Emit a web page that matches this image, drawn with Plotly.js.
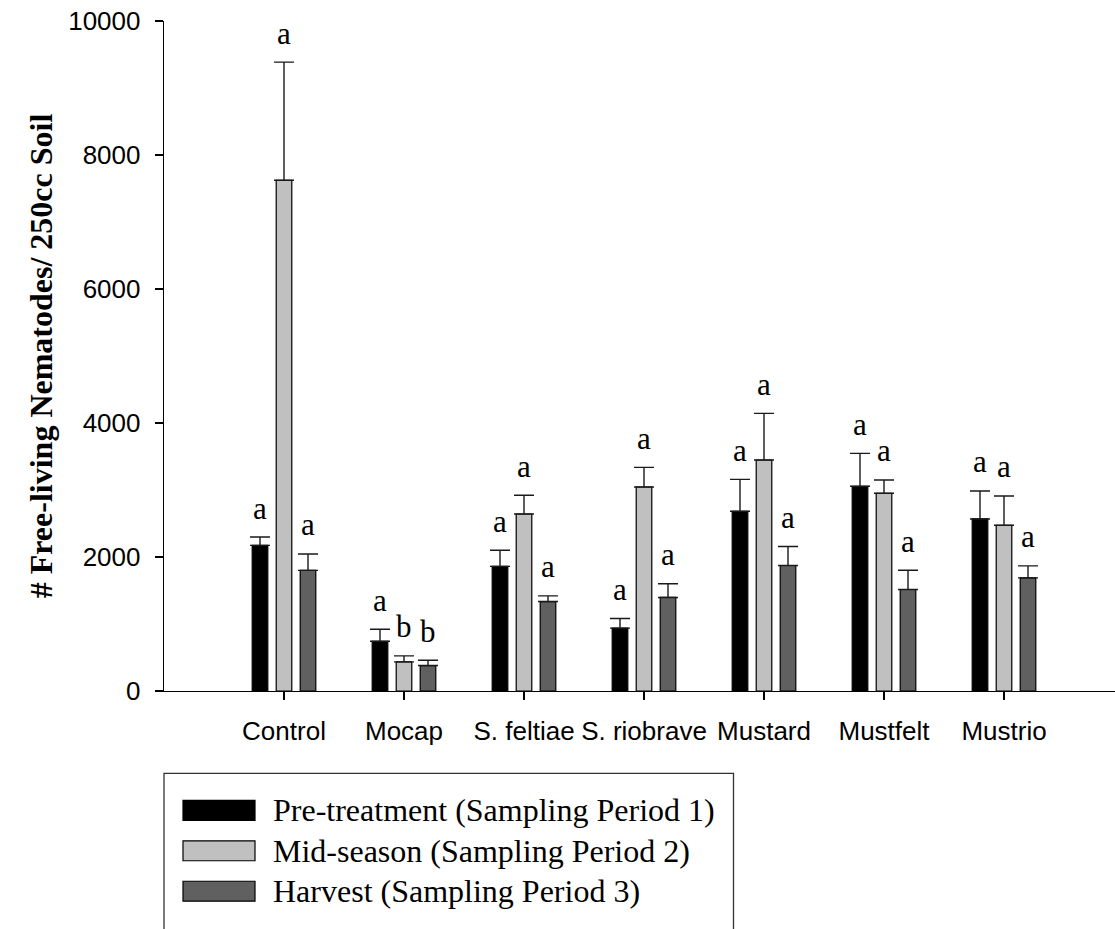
<!DOCTYPE html>
<html>
<head>
<meta charset="utf-8">
<script src="https://cdn.plot.ly/plotly-3.0.1.min.js"></script>
<style>html,body{margin:0;padding:0;background:#fff;}#chart{width:1115px;height:929px;}</style>
</head>
<body>
<div id="chart"></div>
<script>
// ---- data ----
var categories = ['Control', 'Mocap', 'S. feltiae', 'S. riobrave', 'Mustard', 'Mustfelt', 'Mustrio'];
var seriesNames = ['Pre-treatment (Sampling Period 1)', 'Mid-season (Sampling Period 2)', 'Harvest (Sampling Period 3)'];
var preValues = [2173, 742, 1860, 939, 2683, 3055, 2568];
var preErrors = [125, 179, 240, 144, 476, 492, 418];
var midValues = [7623, 435, 2642, 3045, 3448, 2951, 2474];
var midErrors = [1763, 89, 280, 293, 695, 199, 437];
var harValues = [1800, 380, 1335, 1396, 1873, 1515, 1689];
var harErrors = [245, 79, 85, 204, 283, 288, 179];
var preLetters = ['a', 'a', 'a', 'a', 'a', 'a', 'a'];
var midLetters = ['a', 'b', 'a', 'a', 'a', 'a', 'a'];
var harLetters = ['a', 'b', 'a', 'a', 'a', 'a', 'a'];
var yTicks = [0, 2000, 4000, 6000, 8000, 10000];

// ---- styling ----
var colors = ['#000000', '#c0c0c0', '#606060'];
var centers = [-0.2, 0, 0.2];
var barW = 0.13;
var W = 1115, H = 929;
var L = 164, R = 0, T = 20.6, B = H - 691.5;
var plotW = W - L - R, plotH = H - T - B;
function px(x) { return (x - L) / plotW; }
function py(y) { return (H - B - y) / plotH; }

var vals = [preValues, midValues, harValues];
var errs = [preErrors, midErrors, harErrors];
var letters = [preLetters, midLetters, harLetters];

var traces = [];
for (var s = 0; s < 3; s++) {
  traces.push({
    type: 'bar',
    name: seriesNames[s],
    x: categories,
    y: vals[s],
    width: barW,
    offset: centers[s] - barW / 2,
    marker: { color: colors[s], line: { color: '#000', width: 1.2 } },
    error_y: { type: 'data', symmetric: false, array: errs[s], arrayminus: errs[s].map(function () { return 0; }),
               color: '#1a1a1a', thickness: 1.4, width: 10 },
    showlegend: false,
    hoverinfo: 'x+y'
  });
}

var annotations = [];
for (var s2 = 0; s2 < 3; s2++) {
  for (var i = 0; i < categories.length; i++) {
    annotations.push({
      x: i + centers[s2], xref: 'x',
      y: vals[s2][i] + errs[s2][i], yref: 'y',
      text: letters[s2][i], showarrow: false,
      yanchor: 'middle', yshift: 29,
      font: { family: 'Liberation Serif, Times New Roman, serif', size: 31, color: '#000' }
    });
  }
}

// legend (drawn manually to match the boxed legend of the reference)
var shapes = [];
shapes.push({ type: 'path', xref: 'paper', yref: 'paper',
  path: 'M ' + px(164) + ' ' + py(945) + ' L ' + px(164) + ' ' + py(774) + ' L ' + px(733.5) + ' ' + py(774) + ' L ' + px(733.5) + ' ' + py(945),
  line: { color: '#333', width: 1.3 } });
var rowY = [811, 851.5, 892];
for (var k = 0; k < 3; k++) {
  shapes.push({ type: 'rect', xref: 'paper', yref: 'paper',
    x0: px(183), x1: px(255), y0: py(rowY[k] - 10), y1: py(rowY[k] + 10),
    fillcolor: colors[k], line: { color: '#000', width: 1.2 } });
  annotations.push({ xref: 'paper', yref: 'paper', x: px(271), y: py(rowY[k]),
    xanchor: 'left', yanchor: 'middle', showarrow: false, text: seriesNames[k],
    font: { family: 'Liberation Serif, Times New Roman, serif', size: 32, color: '#000' } });
}

var layout = {
  width: W, height: H,
  margin: { l: L, r: R, t: T, b: B, pad: 0 },
  paper_bgcolor: '#fff', plot_bgcolor: '#fff',
  showlegend: false,
  font: { family: 'Liberation Sans, Arial, sans-serif', size: 26, color: '#000' },
  xaxis: {
    type: 'category', range: [-1, 6.925], showgrid: false, zeroline: false,
    showline: true, linecolor: '#000', linewidth: 1.3,
    ticks: 'outside', ticklen: 8, tickwidth: 1.3, tickcolor: '#000',
    tickfont: { family: 'Liberation Sans, Arial, sans-serif', size: 26, color: '#000' },
    ticklabelstandoff: 8
  },
  yaxis: {
    range: [0, 10000], tickvals: yTicks, ticktext: yTicks.map(String),
    showgrid: false, zeroline: false, showline: true, linecolor: '#000', linewidth: 1.3,
    ticks: 'outside', ticklen: 8, tickwidth: 1.3, tickcolor: '#000',
    tickfont: { family: 'Liberation Sans, Arial, sans-serif', size: 26, color: '#000' },
    ticklabelstandoff: 9,
    automargin: true,
    title: { text: '# Free-living Nematodes/ 250cc Soil', standoff: 6,
             font: { family: 'Liberation Serif, Times New Roman, serif', size: 32, color: '#000', weight: 'bold' } }
  },
  annotations: annotations,
  shapes: shapes
};

Plotly.newPlot('chart', traces, layout, { staticPlot: true, displayModeBar: false });
</script>
</body>
</html>
